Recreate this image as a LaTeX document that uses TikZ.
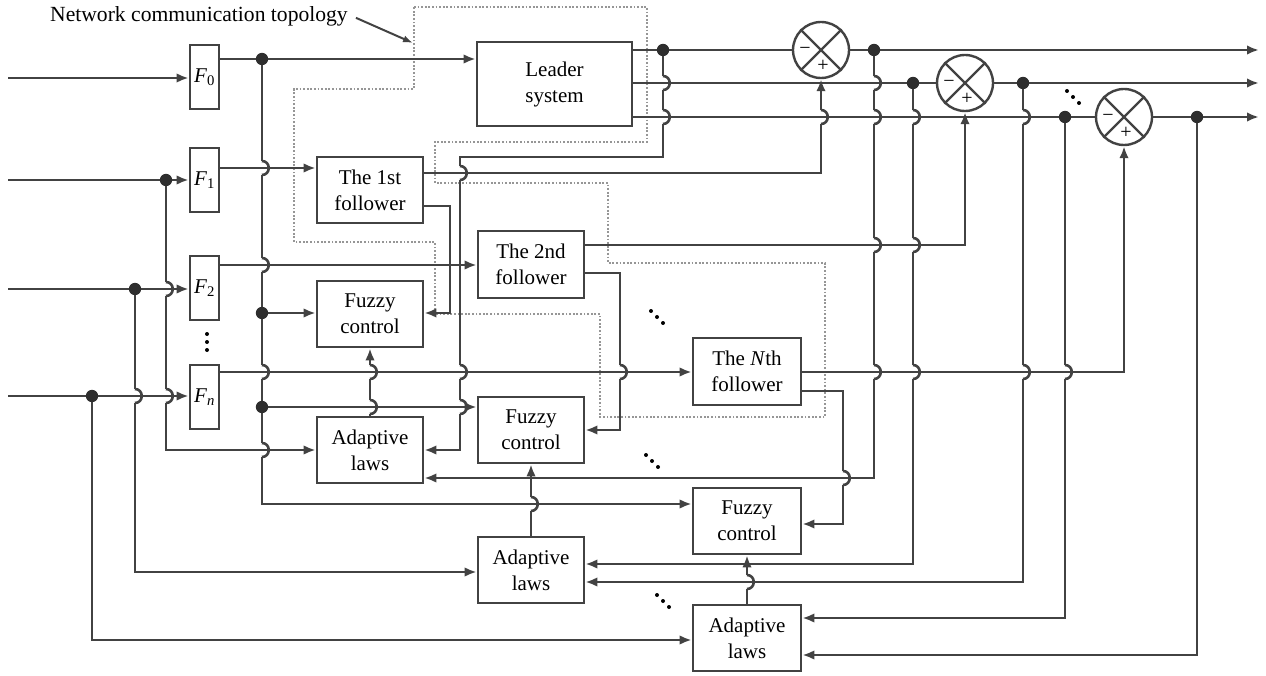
\documentclass[tikz,border=0pt]{standalone}
\usepackage{fontspec}
\setmainfont{Liberation Serif}
\usetikzlibrary{arrows.meta}
\definecolor{wirec}{RGB}{66,66,66}
\definecolor{topoc}{RGB}{150,150,150}
\tikzset{
  wire/.style={draw=wirec, line width=2.6pt},
  arr/.style={wire, -{Latex[length=12pt,width=9.5pt]}},
  blk/.style={draw=wirec, line width=2.7pt, fill=white, inner sep=0pt, align=center,
    font=\fontsize{21}{26}\selectfont},
  fbox/.style={blk, minimum width=29pt, minimum height=64pt},
  mbox/.style={blk, minimum width=106pt, minimum height=66pt},
  nbox/.style={blk, minimum width=108pt, minimum height=67pt},
  sumc/.style={draw=wirec, line width=2.4pt, circle, minimum size=56pt, inner sep=0pt},
  topo/.style={draw=topoc, line width=2.2pt, dash pattern=on 1.8pt off 1.8pt},
  sgn/.style={font=\fontsize{20}{20}\selectfont, inner sep=0pt},
}
\newcommand{\jmp}[2]{%
  \fill[white] ({#1-3.5},{#2-7}) rectangle ({#1+3.5},{#2+7});
  \draw[wire] ({#1-4.5},{#2}) -- ({#1+4.5},{#2});
  \draw[wire] ({#1},{#2-7}) .. controls ({#1+9},{#2-7}) and ({#1+9},{#2+7}) .. ({#1},{#2+7});}
\begin{document}
\begin{tikzpicture}[x=1pt,y=-1pt]
\useasboundingbox (0,0) rectangle (1266,676);

% network communication topology (dotted region)
\draw[topo] (414,7) -- (647,7) -- (647,142) -- (435,142) -- (435,183) -- (608,183)
  -- (608,263) -- (825,263) -- (825,417) -- (600,417) -- (600,314) -- (435,314)
  -- (435,242) -- (294,242) -- (294,89) -- (414,89) -- cycle;
\node[anchor=base west, font=\fontsize{21.6}{24}\selectfont, inner sep=0pt] (lab) at (50,22) {Network communication topology};
\coordinate (labtip) at (413,43);
\draw[draw=wirec, line width=2pt, -{Latex[length=10pt,width=7pt]}] ([xshift=8pt,yshift=-1pt]lab.east) -- (labtip);

% blocks
\node[fbox] (F0) at (204.5,77) {\textit{F}\textsubscript{0}};
\node[fbox] (F1) at (204.5,180) {\textit{F}\textsubscript{1}};
\node[fbox] (F2) at (204.5,288) {\textit{F}\textsubscript{2}};
\node[fbox] (Fn) at (204.5,397) {\textit{F}\textsubscript{\textit{n}}};
\node[blk, minimum width=155pt, minimum height=84pt] (L) at (554.5,84) {Leader\\system};
\node[mbox] (Fol1) at (370,190) {The 1st\\follower};
\node[mbox] (FC1) at (370,314) {Fuzzy\\control};
\node[mbox] (AL1) at (370,450) {Adaptive\\laws};
\node[mbox, minimum height=67pt] (Fol2) at (531,264.5) {The 2nd\\follower};
\node[mbox] (FC2) at (531,430) {Fuzzy\\control};
\node[mbox] (AL2) at (531,570) {Adaptive\\laws};
\node[nbox] (FolN) at (747,371.5) {The \textit{N}th\\follower};
\node[nbox, minimum height=66pt] (FC3) at (747,521) {Fuzzy\\control};
\node[nbox, minimum height=66pt] (AL3) at (747,638) {Adaptive\\laws};

% summing junctions
\node[sumc] (J1) at (821,50) {};
\node[sumc] (J2) at (965,83) {};
\node[sumc] (J3) at (1124,117) {};
\foreach \j in {J1,J2,J3}{
  \draw[draw=wirec, line width=2.4pt] (\j.north west) -- (\j.south east) (\j.north east) -- (\j.south west);
  \node[sgn] at ([xshift=-16pt,yshift=-1pt]\j.center) {−};
  \node[sgn] at ([xshift=2pt,yshift=-16pt]\j.center) {+};
}

% junction dots
\coordinate (d1) at (262,59);
\coordinate (d2) at (663,50);
\coordinate (d3) at (874,50);
\coordinate (d4) at (913,83);
\coordinate (d5) at (1023,83);
\coordinate (d6) at (1065,117);
\coordinate (d7) at (1197,117);
\coordinate (d8) at (166,180);
\coordinate (d9) at (135,289);
\coordinate (d10) at (92,396);
\coordinate (d11) at (262,313);
\coordinate (d12) at (262,407);
% free ends
\coordinate (in0) at (8,78);
\coordinate (in1) at (8,180);
\coordinate (in2) at (8,289);
\coordinate (inn) at (8,396);
\coordinate (out1) at (1259,50);
\coordinate (out2) at (1259,83);
\coordinate (out3) at (1259,117);

% inputs to prefilters
\draw[arr] (in0) -- (F0.west |- in0);
\draw[arr] (in1) -- (F1.west |- in1);
\draw[arr] (in2) -- (F2.west |- in2);
\draw[arr] (inn) -- (Fn.west |- inn);
\draw[arr] (d8) -- (166,450) -- (AL1.west |- 0,450);
\draw[arr] (d9) -- (135,572) -- (AL2.west |- 0,572);
\draw[arr] (d10) -- (92,640) -- (AL3.west |- 0,640);

% prefilter outputs
\draw[arr] (F0.east |- d1) -- (L.west |- d1);
\draw[arr] (d1) -- (262,504) -- (FC3.west |- 0,504);
\draw[arr] (d11) -- (FC1.west |- d11);
\draw[arr] (d12) -- (FC2.west |- d12);
\draw[arr] (F1.east |- 0,168) -- (Fol1.west |- 0,168);
\draw[arr] (F2.east |- 0,265) -- (Fol2.west |- 0,265);
\draw[arr] (Fn.east |- 0,372) -- (FolN.west |- 0,372);

% leader outputs
\draw[wire] (L.east |- J1) -- (J1.west);
\draw[wire] (L.east |- J2) -- (J2.west);
\draw[wire] (L.east |- J3) -- (J3.west);
\draw[arr] (J1.east) -- (out1);
\draw[arr] (J2.east) -- (out2);
\draw[arr] (J3.east) -- (out3);
\draw[arr] (d2) -- (663,157) -- (460,157) -- (460,450) -- (AL1.east |- 0,450);

% follower outputs
\draw[arr] (Fol1.east |- 0,173) -- (821,173) -- (J1.south);
\draw[arr] (Fol1.east |- 0,206) -- (450,206) -- (450,313) -- (FC1.east |- 0,313);
\draw[arr] (Fol2.east |- 0,245) -- (965,245) -- (J2.south);
\draw[arr] (Fol2.east |- 0,273) -- (620,273) -- (620,430) -- (FC2.east |- 0,430);
\draw[arr] (FolN.east |- 0,372) -- (1124,372) -- (J3.south);
\draw[arr] (FolN.east |- 0,391) -- (843,391) -- (843,524) -- (FC3.east |- 0,524);

% errors and leader states to adaptive laws
\draw[arr] (d3) -- (874,478) -- (AL1.east |- 0,478);
\draw[arr] (d4) -- (913,564) -- (AL2.east |- 0,564);
\draw[arr] (d5) -- (1023,582) -- (AL2.east |- 0,582);
\draw[arr] (d6) -- (1065,618) -- (AL3.east |- 0,618);
\draw[arr] (d7) -- (1197,655) -- (AL3.east |- 0,655);

% adaptive laws to fuzzy control
\draw[arr] (AL1.north) -- (FC1.south);
\draw[arr] (AL2.north) -- (FC2.south);
\draw[arr] (AL3.north) -- (FC3.south);

% line jumps
\foreach \x/\y in {262/168, 262/265, 262/372, 262/450, 663/83, 663/117,
  460/173, 460/372, 460/407, 821/117, 620/372, 843/478,
  874/83, 874/117, 874/245, 874/372, 913/117, 913/245, 913/372,
  1023/117, 1023/372, 1065/372, 166/289, 166/396, 135/396,
  370/372, 370/407, 531/504, 747/582}{\jmp{\x}{\y}}

% dots
\foreach \p in {d1,d2,d3,d4,d5,d6,d7,d8,d9,d10,d11,d12}{\fill[wirec!70!black] (\p) circle (6.2pt);}

% ellipses
\foreach \y in {334,342,350}{\fill[black] (207,\y) circle (2pt);}
\foreach \cx/\cy in {1073/97, 657/317, 652/461, 663/601}{
  \foreach \k in {-1,0,1}{\fill[black] ({\cx+6*\k},{\cy+6*\k}) circle (2pt);}
}
\end{tikzpicture}
\end{document}
